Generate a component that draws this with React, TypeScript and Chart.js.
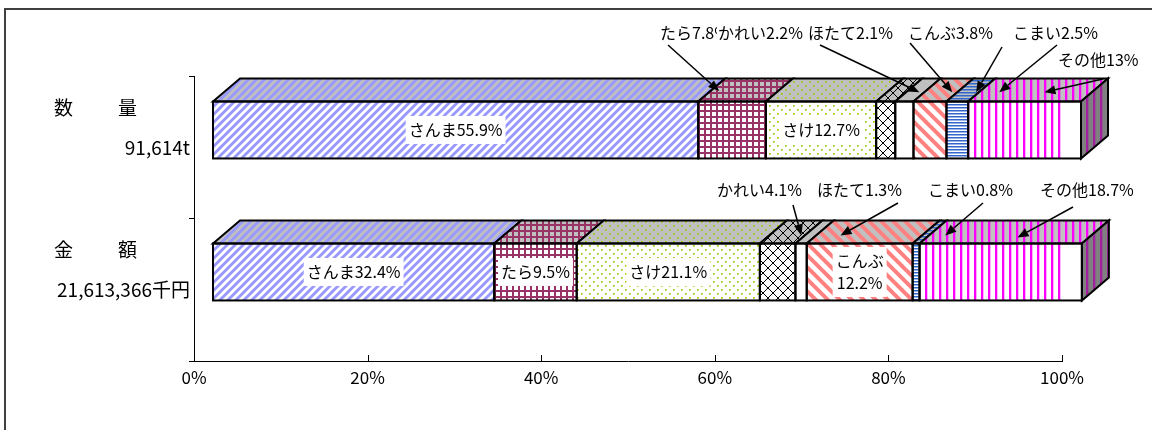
import React, { useEffect, useRef } from 'react';
import { Chart, registerables } from 'chart.js';
Chart.register(...registerables);

// ---------- data ----------
const categories = ['数量', '金額'];
const titleChars = [['数', '量'], ['金', '額']];
const totals = ['91,614t', '21,613,366千円'];
const species = ['さんま', 'たら', 'さけ', 'かれい', 'ほたて', 'こんぶ', 'こまい', 'その他'];
const quantityShare = [55.9, 7.8, 12.7, 2.2, 2.1, 3.8, 2.5, 13];
const valueShare = [32.4, 9.5, 21.1, 4.1, 1.3, 12.2, 0.8, 18.7];
const tickValues = [0, 20, 40, 60, 80, 100];

// ---------- styles / layout ----------
const FONT = "'Noto Sans CJK JP', 'Noto Sans', sans-serif";
const DX = 27;
const DY = 23;
const W = 1141;
const H = 414;

type Spec = { kind: string; fg: string; size: number; lw: number; sideFg?: string };
const segStyles: Spec[] = [
  { kind: 'diagUp', fg: '#9999ff', size: 8, lw: 3 },
  { kind: 'grid', fg: '#993366', size: 6, lw: 2 },
  { kind: 'dots', fg: '#99cc00', size: 8, lw: 1.7 },
  { kind: 'cross', fg: '#000000', size: 10, lw: 1 },
  { kind: 'plain', fg: '#ffffff', size: 4, lw: 0 },
  { kind: 'diagDown', fg: '#ff8080', size: 12, lw: 4 },
  { kind: 'hlines', fg: '#3366cc', size: 3, lw: 1.5 },
  { kind: 'vlines', fg: '#ff00ff', size: 7, lw: 2.3, sideFg: '#a020a0' },
];

// inside labels: row, segment, two-line?
const insideLabels = [
  { row: 0, seg: 0, wrap: false },
  { row: 0, seg: 2, wrap: false },
  { row: 1, seg: 0, wrap: false },
  { row: 1, seg: 1, wrap: false },
  { row: 1, seg: 2, wrap: false },
  { row: 1, seg: 5, wrap: true },
];

// callout labels (canvas coordinates) with arrows pointing at top faces
const callouts = [
  { row: 0, seg: 1, tx: 652, ty: 25, arrows: [{ sx: 660, sy: 37, seg: 1, f: 0.13, t: 0.45 }] },
  { row: 0, seg: 3, tx: 710, ty: 25, arrows: [] },
  { row: 0, seg: 4, tx: 800, ty: 25, arrows: [{ sx: 812, sy: 37, seg: 4, f: 0.73, t: 0.4 }] },
  { row: 0, seg: 5, tx: 900, ty: 25, arrows: [{ sx: 902, sy: 35, seg: 5, f: 0.85, t: 0.4 }] },
  {
    row: 0, seg: 6, tx: 1005, ty: 25,
    arrows: [
      { sx: 994, sy: 39, seg: 6, f: 0.87, t: 0.4 },
      { sx: 1049, sy: 37, seg: 7, f: 0.18, t: 0.4 },
    ],
  },
  { row: 0, seg: 7, tx: 1050, ty: 52, arrows: [{ sx: 1095, sy: 71, seg: 7, f: 0.58, t: 0.4 }] },
  { row: 1, seg: 3, tx: 709, ty: 182, arrows: [{ sx: 785, sy: 197, seg: 3, f: 0.9, t: 0.35 }] },
  { row: 1, seg: 4, tx: 809, ty: 182, arrows: [{ sx: 890, sy: 195, seg: 5, f: 0.23, t: 0.35 }] },
  { row: 1, seg: 6, tx: 920, ty: 182, arrows: [{ sx: 975, sy: 195, seg: 7, f: 0.1, t: 0.35 }] },
  { row: 1, seg: 7, tx: 1032, ty: 182, arrows: [{ sx: 1065, sy: 199, seg: 7, f: 0.56, t: 0.26 }] },
];

const rows = [quantityShare, valueShare];

function makePattern(spec: Spec, bg: string, fg: string): CanvasPattern | string {
  const s = spec.size;
  const c = document.createElement('canvas');
  c.width = s;
  c.height = s;
  const g = c.getContext('2d')!;
  g.fillStyle = bg;
  g.fillRect(0, 0, s, s);
  g.fillStyle = fg;
  g.strokeStyle = fg;
  g.lineWidth = spec.lw;
  switch (spec.kind) {
    case 'diagUp':
      for (const k of [-s, 0, s]) {
        g.beginPath();
        g.moveTo(k - 1, s + 1);
        g.lineTo(k + s + 1, -1);
        g.stroke();
      }
      break;
    case 'diagDown':
      for (const k of [-s, 0, s]) {
        g.beginPath();
        g.moveTo(k - 1, -1);
        g.lineTo(k + s + 1, s + 1);
        g.stroke();
      }
      break;
    case 'cross':
      for (const k of [-s, 0, s]) {
        g.beginPath();
        g.moveTo(k - 1, -1);
        g.lineTo(k + s + 1, s + 1);
        g.moveTo(k - 1, s + 1);
        g.lineTo(k + s + 1, -1);
        g.stroke();
      }
      break;
    case 'grid':
      g.fillRect(0, 0, s, spec.lw);
      g.fillRect(0, 0, spec.lw, s);
      break;
    case 'dots':
      g.fillRect(1, 1, spec.lw, spec.lw);
      g.fillRect(1 + s / 2, 1 + s / 2, spec.lw, spec.lw);
      break;
    case 'hlines':
      g.fillRect(0, 0, s, spec.lw);
      break;
    case 'vlines':
      g.fillRect(0, 0, spec.lw, s);
      break;
    default:
      break;
  }
  const p = g.createPattern(c, 'repeat');
  return p || bg;
}

function arrow(ctx: CanvasRenderingContext2D, x1: number, y1: number, x2: number, y2: number) {
  ctx.save();
  ctx.strokeStyle = '#000';
  ctx.fillStyle = '#000';
  ctx.lineWidth = 1.5;
  const a = Math.atan2(y2 - y1, x2 - x1);
  const L = 11;
  const Wd = 4.5;
  const bx = x2 - L * Math.cos(a);
  const by = y2 - L * Math.sin(a);
  ctx.beginPath();
  ctx.moveTo(x1, y1);
  ctx.lineTo(bx, by);
  ctx.stroke();
  ctx.beginPath();
  ctx.moveTo(x2, y2);
  ctx.lineTo(bx + Wd * Math.sin(a), by - Wd * Math.cos(a));
  ctx.lineTo(bx - Wd * Math.sin(a), by + Wd * Math.cos(a));
  ctx.closePath();
  ctx.fill();
  ctx.restore();
}

export default function App() {
  const ref = useRef<HTMLCanvasElement | null>(null);

  useEffect(() => {
    if (!ref.current) return;
    const frontP = segStyles.map((s) => makePattern(s, '#ffffff', s.fg));
    const topP = segStyles.map((s) => makePattern(s, '#c0c0c0', s.kind === 'plain' ? '#c0c0c0' : s.fg));
    const sideP = segStyles.map((s) => makePattern(s, '#808080', s.kind === 'plain' ? '#808080' : s.sideFg || s.fg));

    const geom = (chart: any, row: number, seg: number) => {
      const meta = chart.getDatasetMeta(seg);
      const el = meta.data[row];
      const p = el.getProps(['x', 'y', 'base', 'height'], true);
      const left = Math.min(p.x, p.base);
      const right = Math.max(p.x, p.base);
      return { left, right, top: p.y - p.height / 2, bottom: p.y + p.height / 2, cy: p.y };
    };

    const fake3d = {
      id: 'fake3d',
      afterDatasetsDraw(chart: any) {
        const ctx: CanvasRenderingContext2D = chart.ctx;
        ctx.save();
        ctx.lineWidth = 2;
        ctx.strokeStyle = '#000';
        ctx.lineJoin = 'miter';
        for (let r = 0; r < categories.length; r++) {
          for (let s = 0; s < species.length; s++) {
            const g = geom(chart, r, s);
            ctx.beginPath();
            ctx.moveTo(g.left, g.top);
            ctx.lineTo(g.right, g.top);
            ctx.lineTo(g.right + DX, g.top - DY);
            ctx.lineTo(g.left + DX, g.top - DY);
            ctx.closePath();
            ctx.fillStyle = topP[s] as any;
            ctx.fill();
            ctx.stroke();
            if (s === species.length - 1) {
              ctx.beginPath();
              ctx.moveTo(g.right, g.top);
              ctx.lineTo(g.right + DX, g.top - DY);
              ctx.lineTo(g.right + DX, g.bottom - DY);
              ctx.lineTo(g.right, g.bottom);
              ctx.closePath();
              ctx.fillStyle = sideP[s] as any;
              ctx.fill();
              ctx.stroke();
            }
            ctx.strokeRect(g.left, g.top, g.right - g.left, g.bottom - g.top);
          }
        }
        ctx.restore();
      },
      afterDraw(chart: any) {
        const ctx: CanvasRenderingContext2D = chart.ctx;
        const xs = chart.scales.x;
        const area = chart.chartArea;
        ctx.save();
        // upward tick marks on the x axis
        ctx.strokeStyle = '#000';
        ctx.lineWidth = 1;
        xs.ticks.forEach((t: any) => {
          if (t.value === 0) return;
          const px = Math.round(xs.getPixelForValue(t.value)) + 0.5;
          ctx.beginPath();
          ctx.moveTo(px, area.bottom);
          ctx.lineTo(px, area.bottom - 6);
          ctx.stroke();
        });

        ctx.textBaseline = 'middle';
        ctx.fillStyle = '#000';

        // left titles
        for (let r = 0; r < categories.length; r++) {
          const g = geom(chart, r, 0);
          ctx.font = `19px ${FONT}`;
          ctx.textAlign = 'left';
          ctx.fillText(titleChars[r][0], 46, g.cy - 22);
          ctx.fillText(titleChars[r][1], 110, g.cy - 22);
          ctx.font = `19px ${FONT}`;
          ctx.textAlign = 'right';
          ctx.fillText(totals[r], 182, g.cy + 18);
        }

        // inside labels
        ctx.font = `16px ${FONT}`;
        ctx.textAlign = 'center';
        insideLabels.forEach((lb) => {
          const g = geom(chart, lb.row, lb.seg);
          const v = rows[lb.row][lb.seg];
          const cx = (g.left + g.right) / 2;
          const lines = lb.wrap ? [species[lb.seg], `${v}%`] : [`${species[lb.seg]}${v}%`];
          const lh = 22;
          const wMax = Math.max(...lines.map((l) => ctx.measureText(l).width));
          const hTot = lines.length * lh + 6;
          ctx.fillStyle = '#fff';
          ctx.fillRect(cx - wMax / 2 - 3, g.cy - hTot / 2, wMax + 6, hTot);
          ctx.fillStyle = '#000';
          lines.forEach((l, i) => {
            ctx.fillText(l, cx, g.cy - ((lines.length - 1) * lh) / 2 + i * lh);
          });
        });

        // callouts
        ctx.textAlign = 'left';
        callouts.forEach((c) => {
          const txt = `${species[c.seg]}${rows[c.row][c.seg]}%`;
          const w = ctx.measureText(txt).width;
          ctx.fillStyle = '#fff';
          ctx.fillRect(c.tx - 1, c.ty - 11, w + 2, 22);
          ctx.fillStyle = '#000';
          ctx.fillText(txt, c.tx, c.ty);
        });
        callouts.forEach((c) => {
          c.arrows.forEach((a) => {
            const g = geom(chart, c.row, a.seg);
            const ex = g.left + a.f * (g.right - g.left) + a.t * DX;
            const ey = g.top - a.t * DY;
            arrow(ctx, a.sx, a.sy, ex, ey);
          });
        });
        ctx.restore();
      },
    };

    const datasets = species.map((name, i) => ({
      label: name,
      data: rows.map((vals, r) => ({ x: vals[i], y: r })),
      backgroundColor: frontP[i] as any,
      borderWidth: 0,
      barThickness: 57,
      xAxisID: 'xb',
      yAxisID: 'yb',
    }));

    const chart = new Chart(ref.current, {
      type: 'bar',
      data: { labels: categories, datasets },
      options: {
        indexAxis: 'y',
        responsive: false,
        animation: false,
        devicePixelRatio: 1,
        layout: { padding: { top: 68, right: 87, left: 0, bottom: 0 } },
        plugins: { legend: { display: false }, tooltip: { enabled: false } },
        scales: {
          x: {
            type: 'linear',
            axis: 'x',
            position: 'bottom',
            min: 0,
            max: 100,
            afterBuildTicks: (s: any) => {
              s.ticks = tickValues.map((v) => ({ value: v }));
            },
            ticks: {
              callback: (v: any) => `${v}%`,
              color: '#000',
              font: { family: FONT, size: 17 },
              padding: 6,
              maxRotation: 0,
              autoSkip: false,
            },
            grid: { display: true, drawOnChartArea: false, drawTicks: false },
            border: { display: true, color: '#000', width: 1 },
            afterFit: (s: any) => {
              s.height = 61;
            },
          },
          y: {
            type: 'category',
            axis: 'y',
            position: 'left',
            offset: true,
            ticks: { display: false },
            grid: { offset: true, drawOnChartArea: false, drawTicks: true, tickLength: 5, color: '#000' },
            border: { display: true, color: '#000', width: 1 },
            afterFit: (s: any) => {
              s.width = 186;
            },
          },
          xb: {
            type: 'linear',
            axis: 'x',
            display: false,
            stacked: true,
            min: -2.19,
            max: 97.81,
          },
          yb: {
            type: 'linear',
            axis: 'y',
            display: false,
            stacked: true,
            reverse: true,
            offset: false,
            min: -0.38,
            max: 1.627,
          },
        },
      } as any,
      plugins: [fake3d],
    });
    return () => chart.destroy();
  }, []);

  return (
    <div style={{ position: 'relative', width: W, height: H }}>
      <canvas ref={ref} width={W} height={H} style={{ display: 'block' }} />
      <div
        style={{
          position: 'fixed',
          left: 4,
          top: 8,
          width: 2,
          height: 422,
          background: '#404040',
          zIndex: 5,
        }}
      />
      <div
        style={{
          position: 'fixed',
          left: 4,
          top: 8,
          width: 1148,
          height: 2,
          background: '#404040',
          zIndex: 5,
        }}
      />
    </div>
  );
}
